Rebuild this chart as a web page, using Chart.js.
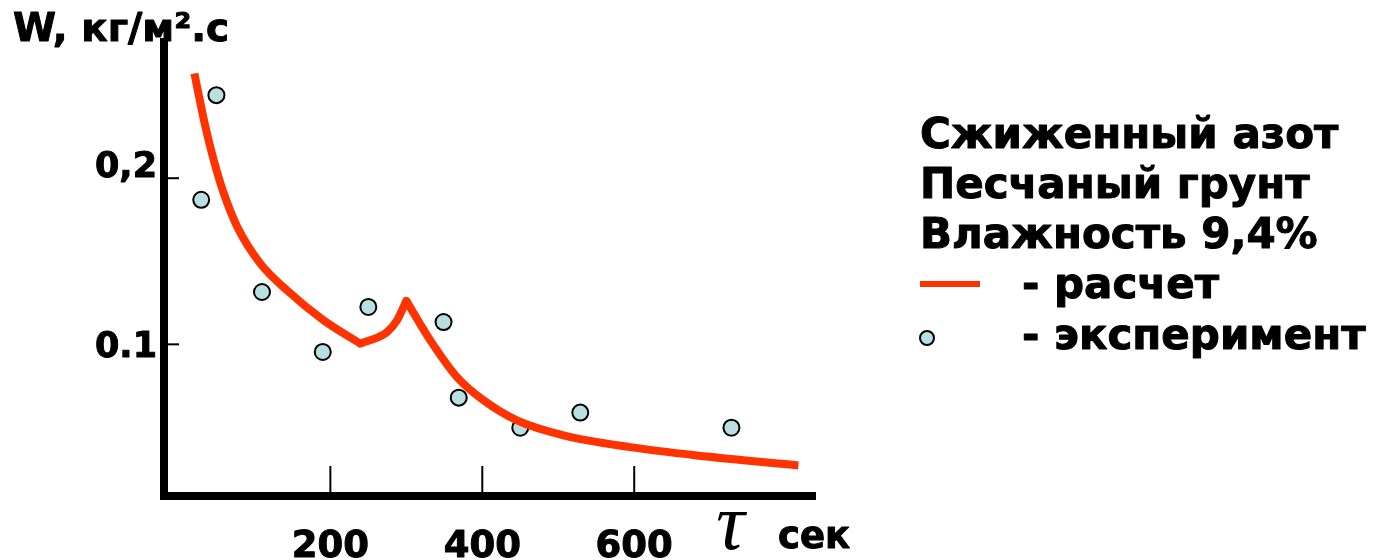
<!DOCTYPE html>
<html>
<head>
<meta charset="utf-8">
<script src="https://cdn.jsdelivr.net/npm/chart.js@4.4.1/dist/chart.umd.min.js"></script>
<style>
  html, body { margin: 0; padding: 0; background: #fff; }
  #wrap { width: 1376px; height: 560px; }
</style>
</head>
<body>
<div id="wrap"><canvas id="chart" width="1376" height="560"></canvas></div>
<script>
  // расчет: three pieces so the two corners stay sharp
  const calcFallT = [21, 35.5, 46.4, 59.6, 77.2, 107.9, 143, 191, 239.5];
  const calcFallW = [0.263, 0.231, 0.211, 0.191, 0.171, 0.1486, 0.1325, 0.1145, 0.1004];
  const calcRiseT = [239.5, 274.6, 287.8, 300];
  const calcRiseW = [0.1004, 0.1074, 0.1145, 0.1262];
  const calcTailT = [300, 331.6, 366.7, 401.7, 445.7, 507, 594.7, 682.5, 816.2];
  const calcTailW = [0.1262, 0.1024, 0.0803, 0.0663, 0.0542, 0.0452, 0.0381, 0.0331, 0.0271];

  // эксперимент
  const expT = [30, 50, 110, 190, 250, 349, 369, 450, 529, 728];
  const expW = [0.187, 0.250, 0.1315, 0.0954, 0.1225, 0.1134, 0.0679, 0.0498, 0.0589, 0.0498];

  const xTicks = [200, 400, 600];
  const xTickLabels = ['200', '400', '600'];
  const yTicks = [0.1, 0.2];
  const yTickLabels = ['0.1', '0,2'];

  const legendLines = ['Сжиженный азот', 'Песчаный грунт', 'Влажность 9,4%'];
  const legendCalc = '- расчет';
  const legendExp = '- эксперимент';

  const RED = '#ff3300';
  const DOT = '#b9dfe1';

  const pts = (xs, ys) => xs.map((x, i) => ({ x: x, y: ys[i] }));

  const lineStyle = {
    showLine: true,
    borderColor: RED,
    borderWidth: 8,
    pointRadius: 0,
    tension: 0.4,
    cubicInterpolationMode: 'monotone',
    borderCapStyle: 'butt'
  };

  // heavy text, close to the bold face of the original
  function txt(ctx, s, x, y) {
    ctx.fillText(s, x, y);
    ctx.strokeText(s, x, y);
  }

  const decor = {
    id: 'decor',
    afterDraw(chart) {
      const ctx = chart.ctx;
      const xs = chart.scales.x, ys = chart.scales.y;
      const area = chart.chartArea;
      ctx.save();
      ctx.fillStyle = '#000';
      ctx.strokeStyle = '#000';
      ctx.lineWidth = 2;

      // tick marks inside the plot
      xTicks.forEach(v => {
        const px = xs.getPixelForValue(v);
        ctx.beginPath();
        ctx.moveTo(px, area.bottom);
        ctx.lineTo(px, area.bottom - 30);
        ctx.stroke();
      });
      yTicks.forEach(v => {
        const py = ys.getPixelForValue(v);
        ctx.beginPath();
        ctx.moveTo(area.left, py);
        ctx.lineTo(area.left + 15, py);
        ctx.stroke();
      });

      ctx.lineWidth = 1;
      ctx.lineJoin = 'round';
      ctx.textBaseline = 'alphabetic';

      // tick labels
      ctx.font = 'bold 37px "DejaVu Sans"';
      ctx.textAlign = 'center';
      xTicks.forEach((v, i) => {
        txt(ctx, xTickLabels[i], xs.getPixelForValue(v), 557);
      });
      ctx.font = 'bold 35px "DejaVu Sans"';
      ctx.textAlign = 'right';
      const yShift = [0, -14];
      yTicks.forEach((v, i) => {
        txt(ctx, yTickLabels[i], area.left - 7, ys.getPixelForValue(v) + 13 + yShift[i]);
      });

      // axis titles
      ctx.textAlign = 'left';
      ctx.font = 'bold 39px "DejaVu Sans"';
      txt(ctx, 'W, кг/м².с', 13, 41);
      ctx.font = 'bold 37px "DejaVu Sans"';
      txt(ctx, 'сек', 778, 548);
      ctx.font = 'italic 80px "Liberation Serif"';
      ctx.fillText('τ', 716, 549);

      // legend block
      ctx.font = 'bold 42px "DejaVu Sans"';
      legendLines.forEach((t, i) => txt(ctx, t, 920, 148 + i * 50));
      txt(ctx, legendCalc, 1022, 298);
      txt(ctx, legendExp, 1022, 349);
      ctx.strokeStyle = RED;
      ctx.lineWidth = 6;
      ctx.beginPath();
      ctx.moveTo(920, 284);
      ctx.lineTo(980, 284);
      ctx.stroke();
      ctx.fillStyle = DOT;
      ctx.strokeStyle = '#000';
      ctx.lineWidth = 2;
      ctx.beginPath();
      ctx.arc(927, 338, 7, 0, Math.PI * 2);
      ctx.fill();
      ctx.stroke();
      ctx.restore();
    }
  };

  new Chart(document.getElementById('chart'), {
    type: 'scatter',
    data: {
      datasets: [
        Object.assign({ label: 'расчет', data: pts(calcFallT, calcFallW) }, lineStyle),
        Object.assign({ label: 'расчет', data: pts(calcRiseT, calcRiseW) }, lineStyle, { borderCapStyle: 'round' }),
        Object.assign({ label: 'расчет', data: pts(calcTailT, calcTailW) }, lineStyle),
        {
          label: 'эксперимент',
          data: pts(expT, expW),
          pointRadius: 8,
          pointBackgroundColor: DOT,
          pointBorderColor: '#000',
          pointBorderWidth: 2
        }
      ]
    },
    options: {
      responsive: false,
      animation: false,
      devicePixelRatio: 1,
      layout: { padding: { left: 0, top: 42, right: 561, bottom: 0 } },
      plugins: { legend: { display: false }, tooltip: { enabled: false } },
      scales: {
        x: {
          type: 'linear',
          min: -19,
          max: 838,
          grid: { display: false },
          border: { display: true, width: 8, color: '#000' },
          ticks: { display: false },
          afterFit(scale) { scale.height = 64; }
        },
        y: {
          type: 'linear',
          min: 0.0087,
          max: 0.282,
          grid: { display: false },
          border: { display: true, width: 8, color: '#000' },
          ticks: { display: false },
          afterFit(scale) { scale.width = 164; }
        }
      }
    },
    plugins: [decor]
  });
</script>
</body>
</html>
